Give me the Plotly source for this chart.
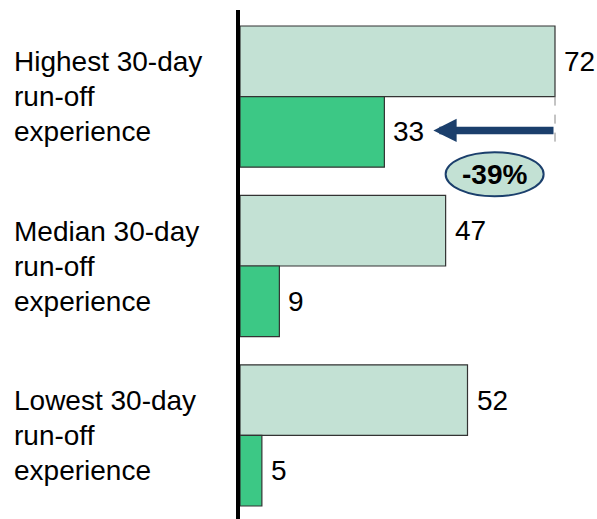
import plotly.graph_objects as go

# Data
groups = [["Highest 30-day", "run-off", "experience"],
          ["Median 30-day", "run-off", "experience"],
          ["Lowest 30-day", "run-off", "experience"]]
before_vals = [72, 47, 52]
after_vals = [33, 9, 5]
change_label = "-39%"

FONT = "Arial, Liberation Sans, sans-serif"
FS = 28
LIGHT = "#c3e1d4"
DARK = "#3cc885"
NAVY = "#1b3f6c"
LINE_STEP = 35  # px between label lines

PITCH = 2.4  # group spacing in bar-height units
y_before = [PITCH * i for i in range(len(groups))]
y_after = [PITCH * i + 1 for i in range(len(groups))]

fig = go.Figure()
fig.add_trace(go.Bar(x=before_vals, y=y_before, orientation="h", width=1,
                     marker=dict(color=LIGHT, line=dict(color="#333333", width=1.2)),
                     hoverinfo="skip", showlegend=False))
fig.add_trace(go.Bar(x=after_vals, y=y_after, orientation="h", width=1,
                     marker=dict(color=DARK, line=dict(color="#333333", width=1.2)),
                     hoverinfo="skip", showlegend=False))

annotations = []
# value labels
for v, y in list(zip(before_vals, y_before)) + list(zip(after_vals, y_after)):
    annotations.append(dict(x=v, y=y, xref="x", yref="y", text=str(v), showarrow=False,
                            xanchor="left", xshift=7, font=dict(family=FONT, size=FS, color="black")))
# group labels, one annotation per line
for lines, y in zip(groups, y_before):
    for k, line in enumerate(lines):
        annotations.append(dict(x=-0.64, y=y + 0.5, xref="paper", yref="y", text=line,
                                showarrow=False, xanchor="left", align="left",
                                yshift=(1 - k) * LINE_STEP,
                                font=dict(family=FONT, size=FS, color="black")))
# arrow from the highest "before" bar towards its "after" label
annotations.append(dict(x=after_vals[0] + 11.2, y=y_after[0] - 0.02, xref="x", yref="y",
                        ax=before_vals[0], ay=y_after[0] - 0.02, axref="x", ayref="y",
                        text="", showarrow=True, arrowhead=2, arrowsize=0.62,
                        arrowwidth=7.5, arrowcolor=NAVY))
# change badge text
annotations.append(dict(x=58.2, y=1.60, xref="x", yref="y", text="<b>" + change_label + "</b>",
                        showarrow=False, font=dict(family=FONT, size=FS, color="black")))

shapes = [
    dict(type="line", xref="x", yref="y", x0=before_vals[0], x1=before_vals[0],
         y0=y_before[0] + 0.5, y1=1.26, line=dict(color="#888888", width=1, dash="dash")),
    dict(type="circle", xref="x", yref="y", xsizemode="pixel", ysizemode="pixel",
         xanchor=58.2, yanchor=1.60, x0=-49, x1=49, y0=-22, y1=22,
         fillcolor=LIGHT, line=dict(color=NAVY, width=2)),
]

fig.update_layout(
    width=597, height=519,
    margin=dict(l=240, r=0, t=10, b=0),
    plot_bgcolor="white", paper_bgcolor="white",
    barmode="overlay",
    xaxis=dict(range=[0, 81.6], visible=False, fixedrange=True),
    yaxis=dict(range=[6.484, -0.727], showticklabels=False, ticks="", showgrid=False,
               zeroline=False, showline=True, linecolor="black", linewidth=4, fixedrange=True),
    annotations=annotations,
    shapes=shapes,
)

fig.write_html("out.html")
